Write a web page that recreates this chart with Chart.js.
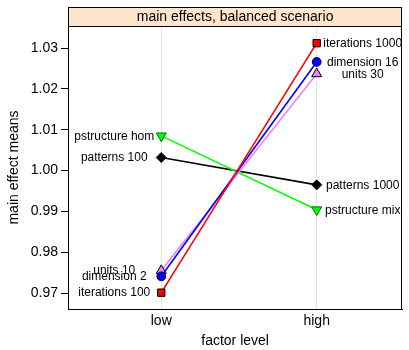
<!DOCTYPE html>
<html>
<head>
<meta charset="utf-8">
<script src="https://cdn.jsdelivr.net/npm/chart.js@4/dist/chart.umd.min.js"></script>
<style>
  html, body { margin: 0; padding: 0; background: #ffffff; }
  #wrap { width: 409px; height: 350px; }
</style>
</head>
<body>
<div id="wrap"><canvas id="c" width="409" height="350"></canvas></div>
<script>
// Factor levels on the x axis
const levels = ['low', 'high'];

// Main-effect means per factor: [low, high]
const factors = ['iterations', 'dimension', 'units', 'pstructure', 'patterns'];
const iterationsMeans = [0.9701, 1.0312];
const dimensionMeans  = [0.9741, 1.0266];
const unitsMeans      = [0.9755, 1.0237];
const pstructureMeans = [1.0085, 0.9904];
const patternsMeans   = [1.0032, 0.9965];

// Level names shown beside each end point
const lowLabels  = ['iterations 100', 'dimension 2', 'units 10', 'pstructure hom', 'patterns 100'];
const highLabels = ['iterations 1000', 'dimension 16', 'units 30', 'pstructure mix', 'patterns 1000'];

// Y axis tick values
const yTicks = [0.97, 0.98, 0.99, 1.00, 1.01, 1.02, 1.03];

const allMeans = [iterationsMeans, dimensionMeans, unitsMeans, pstructureMeans, patternsMeans];

const FONT = "'Liberation Sans', Arial, Helvetica, sans-serif";

// Look of each factor's line and marker
const styles = [
  { line: '#FF0000', fill: '#FF0000', border: '#000000', pointStyle: 'rect',     radius: 5.2, rotation: 0 },
  { line: '#0000FF', fill: '#0000FF', border: '#000033', pointStyle: 'circle',   radius: 4.4, rotation: 0 },
  { line: '#EE82EE', fill: '#EE82EE', border: '#000000', pointStyle: 'triangle', radius: 5.8, rotation: 0 },
  { line: '#00FF00', fill: '#00FF00', border: '#007000', pointStyle: 'triangle', radius: 5.8, rotation: 180 },
  { line: '#000000', fill: '#000000', border: '#000000', pointStyle: 'rectRot',  radius: 5.0, rotation: 0 }
];

const datasets = factors.map((name, i) => ({
  label: name,
  data: allMeans[i].map((v, j) => ({ x: j + 1, y: v })),
  borderColor: styles[i].line,
  borderWidth: 1.6,
  backgroundColor: styles[i].fill,
  pointBackgroundColor: styles[i].fill,
  pointBorderColor: styles[i].border,
  pointBorderWidth: 1,
  pointStyle: styles[i].pointStyle,
  pointRadius: styles[i].radius,
  pointRotation: styles[i].rotation,
  tension: 0,
  fill: false
}));

// Strip header above the panel plus the panel frame
const stripPlugin = {
  id: 'strip',
  afterDraw(chart) {
    const { ctx, chartArea: a } = chart;
    ctx.save();
    // frame around the panel
    ctx.strokeStyle = '#000000';
    ctx.lineWidth = 1;
    ctx.strokeRect(Math.round(a.left) + 0.5, Math.round(a.top) + 0.5,
                   Math.round(a.right - a.left) - 1, Math.round(a.bottom - a.top));
    // strip
    const top = 7.5, h = Math.round(a.top) - 7;
    ctx.fillStyle = '#FFE5CC';
    ctx.fillRect(Math.round(a.left) + 0.5, top, Math.round(a.right - a.left) - 1, h);
    ctx.strokeRect(Math.round(a.left) + 0.5, top, Math.round(a.right - a.left) - 1, h);
    ctx.fillStyle = '#000000';
    ctx.font = '14px ' + FONT;
    ctx.textAlign = 'center';
    ctx.textBaseline = 'middle';
    ctx.fillText('main effects, balanced scenario', (a.left + a.right) / 2, top + h / 2 + 0.5);
    ctx.restore();
  }
};

// Level names centred a fixed distance beside each end point
const levelLabelPlugin = {
  id: 'levelLabels',
  afterDatasetsDraw(chart) {
    const { ctx } = chart;
    ctx.save();
    ctx.font = '12px ' + FONT;
    ctx.fillStyle = '#000000';
    ctx.textAlign = 'center';
    ctx.textBaseline = 'middle';
    chart.data.datasets.forEach((ds, i) => {
      const meta = chart.getDatasetMeta(i);
      const pLow = meta.data[0], pHigh = meta.data[1];
      ctx.fillText(lowLabels[i], pLow.x - 47, pLow.y + 0.5);
      ctx.fillText(highLabels[i], pHigh.x + 46, pHigh.y + 0.5);
    });
    ctx.restore();
  }
};

new Chart(document.getElementById('c'), {
  type: 'line',
  data: { datasets },
  plugins: [stripPlugin, levelLabelPlugin],
  options: {
    responsive: false,
    animation: false,
    devicePixelRatio: 1,
    layout: { padding: { top: 26, right: 3, left: 0, bottom: 0 } },
    plugins: { legend: { display: false }, tooltip: { enabled: false } },
    scales: {
      x: {
        type: 'linear',
        min: 0.4,
        max: 2.55,
        afterBuildTicks(scale) { scale.ticks = levels.map((_, i) => ({ value: i + 1 })); },
        afterFit(scale) { scale.height = 41; },
        ticks: {
          callback: (v) => levels[v - 1],
          font: { family: FONT, size: 14 },
          color: '#000000',
          padding: 4,
          maxRotation: 0
        },
        grid: { color: '#E6E6E6', lineWidth: 1, drawTicks: false },
        border: { display: true, color: '#000000', width: 1 },
        title: {
          display: true,
          text: 'factor level',
          font: { family: FONT, size: 14 },
          color: '#000000',
          padding: { top: 0, bottom: 0 }
        }
      },
      y: {
        type: 'linear',
        min: 0.9661,
        max: 1.0354,
        afterBuildTicks(scale) { scale.ticks = yTicks.map(v => ({ value: v })); },
        afterFit(scale) { scale.width = 68; },
        ticks: {
          callback: (v) => v.toFixed(2),
          font: { family: FONT, size: 14 },
          color: '#000000',
          padding: 3
        },
        grid: { drawOnChartArea: false, drawTicks: true, tickLength: 7, color: '#000000' },
        border: { display: true, color: '#000000', width: 1 },
        title: {
          display: true,
          text: 'main effect means',
          font: { family: FONT, size: 14 },
          color: '#000000',
          padding: { top: 6, bottom: 0 }
        }
      }
    }
  }
});
</script>
</body>
</html>
